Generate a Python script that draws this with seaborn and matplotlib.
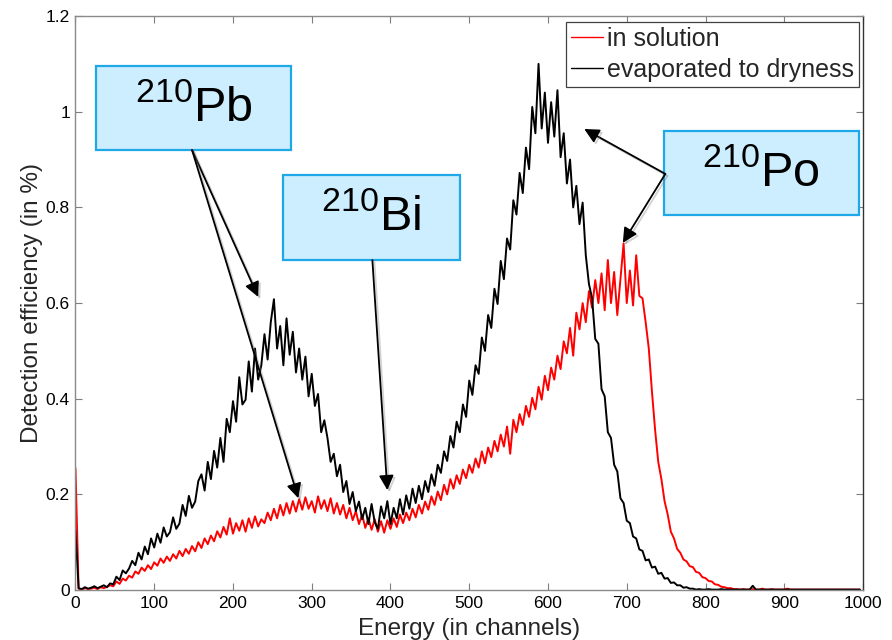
import numpy as np
import pandas as pd
import matplotlib
matplotlib.use("Agg")
import matplotlib.pyplot as plt
import matplotlib.patheffects as pe
from matplotlib.patches import Rectangle
import seaborn as sns

# Channel grid (every 4th channel of the 1000-channel spectrum)
channels = np.arange(0, 1000, 4)

# Detection efficiency (%) of the sample measured in solution
in_solution = [
    0.255, 0.003, 0.001, 0.004, 0.002, 0.003, 0.005, 0.002, 0.006, 0.004,
    0.007, 0.010, 0.008, 0.018, 0.013, 0.024, 0.020, 0.030, 0.026, 0.039,
    0.034, 0.047, 0.040, 0.052, 0.044, 0.058, 0.051, 0.066, 0.057, 0.070,
    0.061, 0.075, 0.066, 0.082, 0.071, 0.086, 0.076, 0.092, 0.081, 0.100,
    0.088, 0.108, 0.096, 0.114, 0.102, 0.123, 0.110, 0.132, 0.116, 0.150,
    0.118, 0.140, 0.124, 0.146, 0.122, 0.150, 0.130, 0.154, 0.133, 0.148,
    0.140, 0.162, 0.146, 0.170, 0.150, 0.178, 0.156, 0.182, 0.160, 0.186,
    0.164, 0.190, 0.168, 0.194, 0.170, 0.186, 0.162, 0.196, 0.170, 0.188,
    0.165, 0.192, 0.160, 0.182, 0.158, 0.178, 0.150, 0.172, 0.146, 0.165,
    0.138, 0.158, 0.130, 0.150, 0.126, 0.148, 0.122, 0.144, 0.120, 0.146,
    0.128, 0.150, 0.132, 0.158, 0.140, 0.162, 0.146, 0.170, 0.152, 0.178,
    0.160, 0.185, 0.168, 0.196, 0.178, 0.206, 0.188, 0.220, 0.200, 0.232,
    0.212, 0.240, 0.222, 0.252, 0.234, 0.262, 0.245, 0.275, 0.256, 0.290,
    0.265, 0.298, 0.278, 0.312, 0.290, 0.325, 0.300, 0.342, 0.285, 0.356,
    0.330, 0.368, 0.345, 0.385, 0.362, 0.402, 0.378, 0.425, 0.398, 0.448,
    0.418, 0.465, 0.440, 0.490, 0.462, 0.520, 0.495, 0.548, 0.490, 0.580,
    0.545, 0.600, 0.560, 0.625, 0.590, 0.648, 0.600, 0.662, 0.585, 0.690,
    0.600, 0.665, 0.575, 0.650, 0.725, 0.600, 0.668, 0.595, 0.700, 0.615,
    0.610, 0.560, 0.505, 0.415, 0.335, 0.268, 0.232, 0.186, 0.158, 0.122,
    0.108, 0.086, 0.078, 0.064, 0.060, 0.050, 0.048, 0.038, 0.036, 0.027,
    0.025, 0.019, 0.018, 0.012, 0.011, 0.007, 0.006, 0.004, 0.004, 0.002,
    0.002, 0.001, 0.002, 0.001, 0.001, 0.002, 0.001, 0.001, 0.003, 0.001,
    0.001, 0.002, 0.001, 0.001, 0.001, 0.001, 0.003, 0.001, 0.001, 0.001,
    0.001, 0.001, 0.001, 0.001, 0.001, 0.001, 0.001, 0.001, 0.001, 0.001,
    0.001, 0.001, 0.001, 0.001, 0.001, 0.001, 0.001, 0.001, 0.001, 0.001,
]

# Detection efficiency (%) of the sample evaporated to dryness
evaporated = [
    0.125, 0.004, 0.002, 0.006, 0.003, 0.005, 0.008, 0.004, 0.007, 0.010,
    0.006, 0.014, 0.012, 0.028, 0.021, 0.041, 0.035, 0.045, 0.061, 0.052,
    0.078, 0.064, 0.091, 0.075, 0.108, 0.089, 0.118, 0.099, 0.131, 0.112,
    0.121, 0.152, 0.128, 0.139, 0.178, 0.155, 0.197, 0.172, 0.185, 0.228,
    0.242, 0.208, 0.268, 0.232, 0.291, 0.256, 0.318, 0.268, 0.358, 0.330,
    0.395, 0.352, 0.445, 0.388, 0.398, 0.478, 0.415, 0.505, 0.440, 0.470,
    0.535, 0.482, 0.560, 0.608, 0.505, 0.552, 0.470, 0.568, 0.492, 0.540,
    0.455, 0.505, 0.440, 0.488, 0.405, 0.452, 0.385, 0.410, 0.330, 0.355,
    0.318, 0.268, 0.285, 0.238, 0.262, 0.205, 0.228, 0.180, 0.205, 0.165,
    0.185, 0.148, 0.172, 0.138, 0.180, 0.142, 0.128, 0.175, 0.150, 0.186,
    0.138, 0.172, 0.150, 0.190, 0.158, 0.198, 0.170, 0.212, 0.182, 0.218,
    0.190, 0.228, 0.205, 0.242, 0.218, 0.262, 0.245, 0.290, 0.270, 0.322,
    0.298, 0.352, 0.330, 0.388, 0.362, 0.438, 0.408, 0.470, 0.452, 0.528,
    0.500, 0.575, 0.548, 0.630, 0.598, 0.688, 0.650, 0.735, 0.712, 0.815,
    0.785, 0.872, 0.830, 0.925, 0.880, 1.010, 0.955, 1.100, 0.965, 1.040,
    0.935, 1.020, 0.948, 1.045, 0.905, 0.955, 0.850, 0.900, 0.800, 0.845,
    0.765, 0.810, 0.700, 0.640, 0.610, 0.525, 0.515, 0.420, 0.405, 0.330,
    0.318, 0.262, 0.248, 0.192, 0.182, 0.145, 0.140, 0.112, 0.108, 0.085,
    0.082, 0.062, 0.064, 0.047, 0.049, 0.034, 0.036, 0.024, 0.025, 0.015,
    0.016, 0.010, 0.010, 0.005, 0.006, 0.003, 0.003, 0.001, 0.002, 0.001,
    0.001, 0.002, 0.001, 0.001, 0.001, 0.002, 0.001, 0.001, 0.001, 0.001,
    0.001, 0.001, 0.001, 0.001, 0.001, 0.009, 0.001, 0.001, 0.001, 0.001,
    0.001, 0.001, 0.001, 0.001, 0.001, 0.001, 0.001, 0.001, 0.001, 0.001,
    0.001, 0.001, 0.001, 0.001, 0.001, 0.001, 0.001, 0.001, 0.001, 0.001,
    0.001, 0.001, 0.001, 0.001, 0.001, 0.001, 0.001, 0.001, 0.001, 0.001,
]

series_names = ["in solution", "evaporated to dryness"]
series_colors = ["#ff0000", "#000000"]

x_ticks = list(range(0, 1001, 100))
y_ticks = [0, 0.2, 0.4, 0.6, 0.8, 1.0, 1.2]
y_tick_labels = ["0", "0.2", "0.4", "0.6", "0.8", "1", "1.2"]

# Nuclide call-outs: label, box (x0, y0, x1, y1), arrow tail, arrow tips
callouts = [
    ("Pb", (26, 0.920, 274, 1.096), (148, 0.920), [(232, 0.613), (283, 0.192)]),
    ("Bi", (264, 0.690, 488, 0.868), (377, 0.690), [(396, 0.209)]),
    ("Po", (747, 0.784, 995, 0.960), (749, 0.870), [(646, 0.964), (695, 0.726)]),
]

df = pd.concat([
    pd.DataFrame({"channel": channels, "efficiency": in_solution, "sample": series_names[0]}),
    pd.DataFrame({"channel": channels, "efficiency": evaporated, "sample": series_names[1]}),
])

sns.set_theme(style="white")
plt.rcParams["font.family"] = ["Liberation Sans", "DejaVu Sans"]
plt.rcParams["mathtext.fontset"] = "custom"
plt.rcParams["mathtext.rm"] = "Liberation Sans"
plt.rcParams["mathtext.it"] = "Liberation Sans"

fig = plt.figure(figsize=(8.92, 6.40), dpi=100)
ax = fig.add_axes([0.0846, 0.078, 0.8829, 0.8969])

sns.lineplot(data=df, x="channel", y="efficiency", hue="sample",
             hue_order=series_names, palette=dict(zip(series_names, series_colors)),
             estimator=None, sort=False, linewidth=1.4, ax=ax)

ax.set_xlim(0, 1000)
ax.set_ylim(0, 1.2)
ax.set_xticks(x_ticks)
ax.set_yticks(y_ticks)
ax.set_yticklabels(y_tick_labels)
ax.tick_params(direction="in", length=5, width=0.8, color="#7f7f7f",
               labelsize=12.5, labelcolor="black", top=True, right=True,
               bottom=True, left=True, pad=4)
for side in ["left", "bottom", "top"]:
    ax.spines[side].set_color("#8a8a8a")
    ax.spines[side].set_linewidth(1.0)
ax.spines["right"].set_color("#333333")
ax.spines["right"].set_linewidth(1.0)

ax.set_xlabel("Energy (in channels)", fontsize=17.5, labelpad=5)
ax.set_ylabel("Detection efficiency (in %)", fontsize=17.5, labelpad=2)

handles, labels = ax.get_legend_handles_labels()
leg = ax.legend(handles, labels, loc="upper right", bbox_to_anchor=(0.995, 0.99),
                fontsize=18, frameon=True, fancybox=False, framealpha=1,
                edgecolor="#404040", handlelength=1.3, handletextpad=0.15,
                borderpad=0.2, labelspacing=0.28, borderaxespad=0)
leg.get_frame().set_linewidth(0.9)
for line in leg.get_lines():
    line.set_linewidth(1.0)

shadow = [pe.SimpleLineShadow(offset=(1.5, -1.5), shadow_color="gray", alpha=0.35), pe.Normal()]
for name, (x0, y0, x1, y1), tail, tips in callouts:
    ax.add_patch(Rectangle((x0, y0), x1 - x0, y1 - y0, facecolor="#cdeefe",
                           edgecolor="#1fa8e8", linewidth=1.6, zorder=5))
    ax.text((x0 + x1) / 2, (y0 + y1) / 2, r"$^{210}$" + name, fontsize=35,
            ha="center", va="center", color="black", zorder=6)
    for tip in tips:
        ann = ax.annotate("", xy=tip, xytext=tail,
                          arrowprops=dict(arrowstyle="-|>", color="black", lw=1.3,
                                          mutation_scale=22, shrinkA=0, shrinkB=0),
                          zorder=7)
        ann.arrow_patch.set_path_effects(shadow)

fig.savefig("out.png", dpi=100)
